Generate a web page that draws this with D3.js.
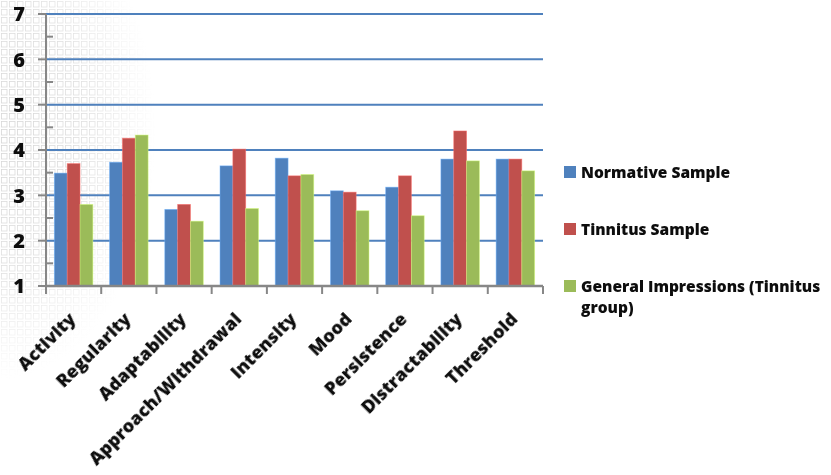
<!DOCTYPE html>
<html>
<head>
<meta charset="utf-8">
<script src="https://cdn.jsdelivr.net/npm/d3@7"></script>
<style>
  html, body { margin: 0; padding: 0; background: #fff; }
  svg { display: block; }
  text { font-family: "Open Sans", Lato, sans-serif; font-weight: 800; fill: #111; }
</style>
</head>
<body>
<svg id="chart" width="831" height="475"></svg>
<script>
// Temperament dimensions and mean scores per group
const categories = ["Activity", "Regularity", "Adaptability", "Approach/Withdrawal", "Intensity",
                    "Mood", "Persistence", "Distractability", "Threshold"];
const seriesNames = ["Normative Sample", "Tinnitus Sample", "General Impressions (Tinnitus group)"];
const normative  = [3.49, 3.73, 2.69, 3.65, 3.82, 3.10, 3.18, 3.80, 3.80];
const tinnitus   = [3.70, 4.26, 2.80, 4.02, 3.43, 3.07, 3.43, 4.42, 3.80];
const impression = [2.80, 4.33, 2.43, 2.71, 3.46, 2.66, 2.55, 3.76, 3.54];
const yTicks = [1, 2, 3, 4, 5, 6, 7];

const colors = ["#4F81BD", "#C0504D", "#9BBB59"];
const seriesValues = [normative, tinnitus, impression];

const svg = d3.select("#chart");
const plot = { left: 46, right: 543, top: 14, bottom: 286 };

// Faint square-tile backdrop in the upper left corner
const defs = svg.append("defs");
const pat = defs.append("pattern").attr("id", "tiles")
  .attr("width", 8).attr("height", 8).attr("patternUnits", "userSpaceOnUse");
pat.append("rect").attr("x", 1.5).attr("y", 1.5).attr("width", 5.5).attr("height", 5.5)
  .attr("fill", "none").attr("stroke", "#d6d6d6").attr("stroke-width", 0.8);
const grad = defs.append("radialGradient").attr("id", "fade")
  .attr("cx", 0).attr("cy", 0.35).attr("r", 0.65);
grad.append("stop").attr("offset", "0%").attr("stop-color", "#fff").attr("stop-opacity", 1);
grad.append("stop").attr("offset", "55%").attr("stop-color", "#fff").attr("stop-opacity", 0.75);
grad.append("stop").attr("offset", "100%").attr("stop-color", "#fff").attr("stop-opacity", 0);
const mask = defs.append("mask").attr("id", "tileMask");
mask.append("rect").attr("x", 0).attr("y", 0).attr("width", 240).attr("height", 380).attr("fill", "url(#fade)");
svg.append("rect").attr("x", 0).attr("y", 0).attr("width", 240).attr("height", 380)
  .attr("fill", "url(#tiles)").attr("mask", "url(#tileMask)");

const soft = defs.append("filter").attr("id", "soft");
soft.append("feGaussianBlur").attr("stdDeviation", 0.5);

// Scales
const x = d3.scaleBand().domain(categories).range([plot.left, plot.right]).paddingInner(0).paddingOuter(0);
const x1 = d3.scaleBand().domain(d3.range(seriesNames.length)).range([0, x.bandwidth()]).paddingInner(0).paddingOuter(0.65);
const y = d3.scaleLinear().domain([1, 7]).range([plot.bottom, plot.top]);

// Horizontal gridlines
svg.append("g").selectAll("line").data(yTicks.filter(v => v > 1)).join("line")
  .attr("x1", plot.left).attr("x2", plot.right)
  .attr("y1", d => y(d)).attr("y2", d => y(d))
  .attr("stroke", "#4F81BD").attr("stroke-width", 2);

// Bars
const groups = svg.append("g").selectAll("g").data(categories).join("g")
  .attr("transform", d => `translate(${x(d)},0)`);
groups.selectAll("rect").data((d, i) => seriesValues.map((s, k) => ({ k, v: s[i] }))).join("rect")
  .attr("x", d => x1(d.k)).attr("width", x1.bandwidth())
  .attr("y", d => y(d.v)).attr("height", d => y(1) - y(d.v))
  .attr("fill", d => colors[d.k])
  .attr("stroke", d => d3.color(colors[d.k]).brighter(0.9)).attr("stroke-width", 0.8).attr("stroke-opacity", 0.6);

// Y axis
const yAxis = svg.append("g");
yAxis.append("line").attr("x1", plot.left).attr("x2", plot.left)
  .attr("y1", plot.top).attr("y2", plot.bottom).attr("stroke", "#878787").attr("stroke-width", 2);
yAxis.selectAll("line.major").data(yTicks).join("line").attr("class", "major")
  .attr("x1", plot.left - 8).attr("x2", plot.left).attr("y1", d => y(d)).attr("y2", d => y(d))
  .attr("stroke", "#878787").attr("stroke-width", 2);
yAxis.selectAll("line.minor").data(d3.range(1.5, 7, 1)).join("line").attr("class", "minor")
  .attr("x1", plot.left).attr("x2", plot.left + 7).attr("y1", d => y(d)).attr("y2", d => y(d))
  .attr("stroke", "#878787").attr("stroke-width", 2);
yAxis.selectAll("text").data(yTicks).join("text")
  .attr("x", 25).attr("y", d => y(d)).attr("dy", "0.36em")
  .attr("text-anchor", "end").style("font-size", "20px")
  .attr("filter", "url(#soft)")
  .text(d => d);

// X axis
const xAxis = svg.append("g");
xAxis.append("line").attr("x1", plot.left - 1).attr("x2", plot.right)
  .attr("y1", plot.bottom).attr("y2", plot.bottom).attr("stroke", "#878787").attr("stroke-width", 2.5);
xAxis.selectAll("line.tick").data(categories.map(c => x(c)).concat([plot.right])).join("line")
  .attr("class", "tick")
  .attr("x1", d => d).attr("x2", d => d).attr("y1", plot.bottom).attr("y2", plot.bottom + 8)
  .attr("stroke", "#878787").attr("stroke-width", 2);
xAxis.selectAll("text").data(categories).join("text")
  .attr("transform", d => `translate(${x(d) + x.bandwidth() / 2 - 1},${plot.bottom + 30}) rotate(-45)`)
  .attr("text-anchor", "end").attr("dy", "0.35em")
  .style("font-size", "18px")
  .attr("filter", "url(#soft)")
  .text(d => d);

// Legend
const legendY = [172, 229, 286];
const legend = svg.append("g");
seriesNames.forEach((name, k) => {
  legend.append("rect").attr("x", 564).attr("y", legendY[k] - 6).attr("width", 12).attr("height", 12)
    .attr("fill", colors[k]);
  const t = legend.append("text").attr("x", 581).attr("y", legendY[k]).attr("dy", "0.36em")
    .style("font-size", "15.5px").attr("filter", "url(#soft)");
  if (k === 2) {
    t.append("tspan").attr("x", 581).text("General Impressions (Tinnitus");
    t.append("tspan").attr("x", 581).attr("dy", "1.4em").text("group)");
  } else {
    t.text(name);
  }
});
</script>
</body>
</html>
